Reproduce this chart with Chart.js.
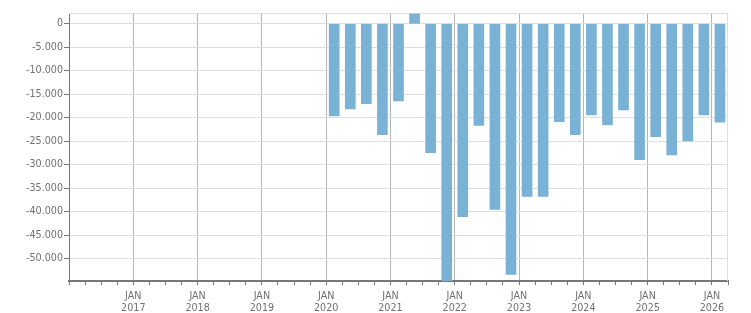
<!DOCTYPE html>
<html>
<head>
<meta charset="utf-8">
<script src="https://cdn.jsdelivr.net/npm/chart.js@4.4.1/dist/chart.umd.min.js"></script>
<style>
  html, body { margin: 0; padding: 0; background: #fff; }
  #wrap { width: 751px; height: 313px; }
</style>
</head>
<body>
<div id="wrap"><canvas id="myChart" width="751" height="313"></canvas></div>
<script>
// quarters shown on the chart
var quarters = [
  "2020 Q1", "2020 Q2", "2020 Q3", "2020 Q4",
  "2021 Q1", "2021 Q2", "2021 Q3", "2021 Q4",
  "2022 Q1", "2022 Q2", "2022 Q3", "2022 Q4",
  "2023 Q1", "2023 Q2", "2023 Q3", "2023 Q4",
  "2024 Q1", "2024 Q2", "2024 Q3", "2024 Q4",
  "2025 Q1", "2025 Q2", "2025 Q3", "2025 Q4",
  "2026 Q1"
];
var values = [
  -19600, -18100, -17000, -23600,
  -16400, 2100, -27400, -54700,
  -41000, -21600, -39500, -53300,
  -36700, -36700, -20800, -23600,
  -19400, -21500, -18300, -28900,
  -24000, -27900, -24900, -19400,
  -20900
];
var yTicks = [0, -5000, -10000, -15000, -20000, -25000, -30000, -35000, -40000, -45000, -50000];
var firstYear = 2016;
var monthNames = ["JAN"];

// x is months since Jan of firstYear, bar sits in middle of its quarter
function quarterToX(q) {
  var parts = q.split(" Q");
  return (parseInt(parts[0]) - firstYear) * 12 + (parseInt(parts[1]) - 1) * 3 + 1.5;
}

var points = [];
for (var i = 0; i < quarters.length; i++) {
  points.push({ x: quarterToX(quarters[i]), y: values[i] });
}

function fmt(v) {
  var s = String(Math.abs(v)).replace(/\B(?=(\d{3})+(?!\d))/g, ".");
  return (v < 0 ? "-" : "") + s;
}

// light frame on top and right of plot area
var frame = {
  id: "frame",
  beforeDatasetsDraw: function(chart) {
    var a = chart.chartArea, c = chart.ctx;
    c.save();
    c.strokeStyle = "#dddddd";
    c.lineWidth = 1;
    c.beginPath();
    c.moveTo(a.left, Math.round(a.top) + 0.5);
    c.lineTo(a.right, Math.round(a.top) + 0.5);
    c.moveTo(Math.round(a.right) - 0.5, a.top);
    c.lineTo(Math.round(a.right) - 0.5, a.bottom);
    c.stroke();
    c.restore();
  }
};

Chart.defaults.font.family = "'DejaVu Sans', Verdana, sans-serif";
Chart.defaults.font.size = 9.6;
Chart.defaults.color = "#707070";

new Chart(document.getElementById("myChart"), {
  type: "bar",
  data: {
    datasets: [{
      data: points,
      backgroundColor: "#79b2d4",
      barThickness: 10
    }]
  },
  options: {
    responsive: false,
    animation: false,
    layout: { padding: { top: 13, right: 23, left: 0, bottom: 0 } },
    plugins: { legend: { display: false }, tooltip: { enabled: false } },
    scales: {
      x: {
        type: "linear",
        offset: false,
        min: 0,
        max: 123,
        afterFit: function(s) { s.height = 32; },
        border: { color: "#777", width: 2 },
        grid: {
          offset: false,
          color: function(ctx) {
            var v = ctx.tick ? ctx.tick.value : 0;
            return (v % 12 === 0 && v > 0) ? "#b5b5b5" : "rgba(0,0,0,0)";
          },
          tickColor: "#777",
          tickLength: 4
        },
        ticks: {
          stepSize: 3,
          autoSkip: false,
          maxRotation: 0,
          padding: 5,
          font: { lineHeight: 1.25 },
          callback: function(v) {
            if (v % 12 === 0 && v > 0) return [monthNames[0], String(firstYear + v / 12)];
            return "";
          }
        }
      },
      y: {
        min: -54700,
        max: 2300,
        afterFit: function(s) { s.width = 69; },
        afterBuildTicks: function(s) {
          s.ticks = yTicks.map(function(v) { return { value: v }; });
        },
        border: { color: "#777", width: 1 },
        grid: { color: "#dddddd", tickColor: "#777", tickLength: 5 },
        ticks: {
          padding: 1,
          callback: function(v) { return fmt(v); }
        }
      }
    }
  },
  plugins: [frame]
});
</script>
</body>
</html>
